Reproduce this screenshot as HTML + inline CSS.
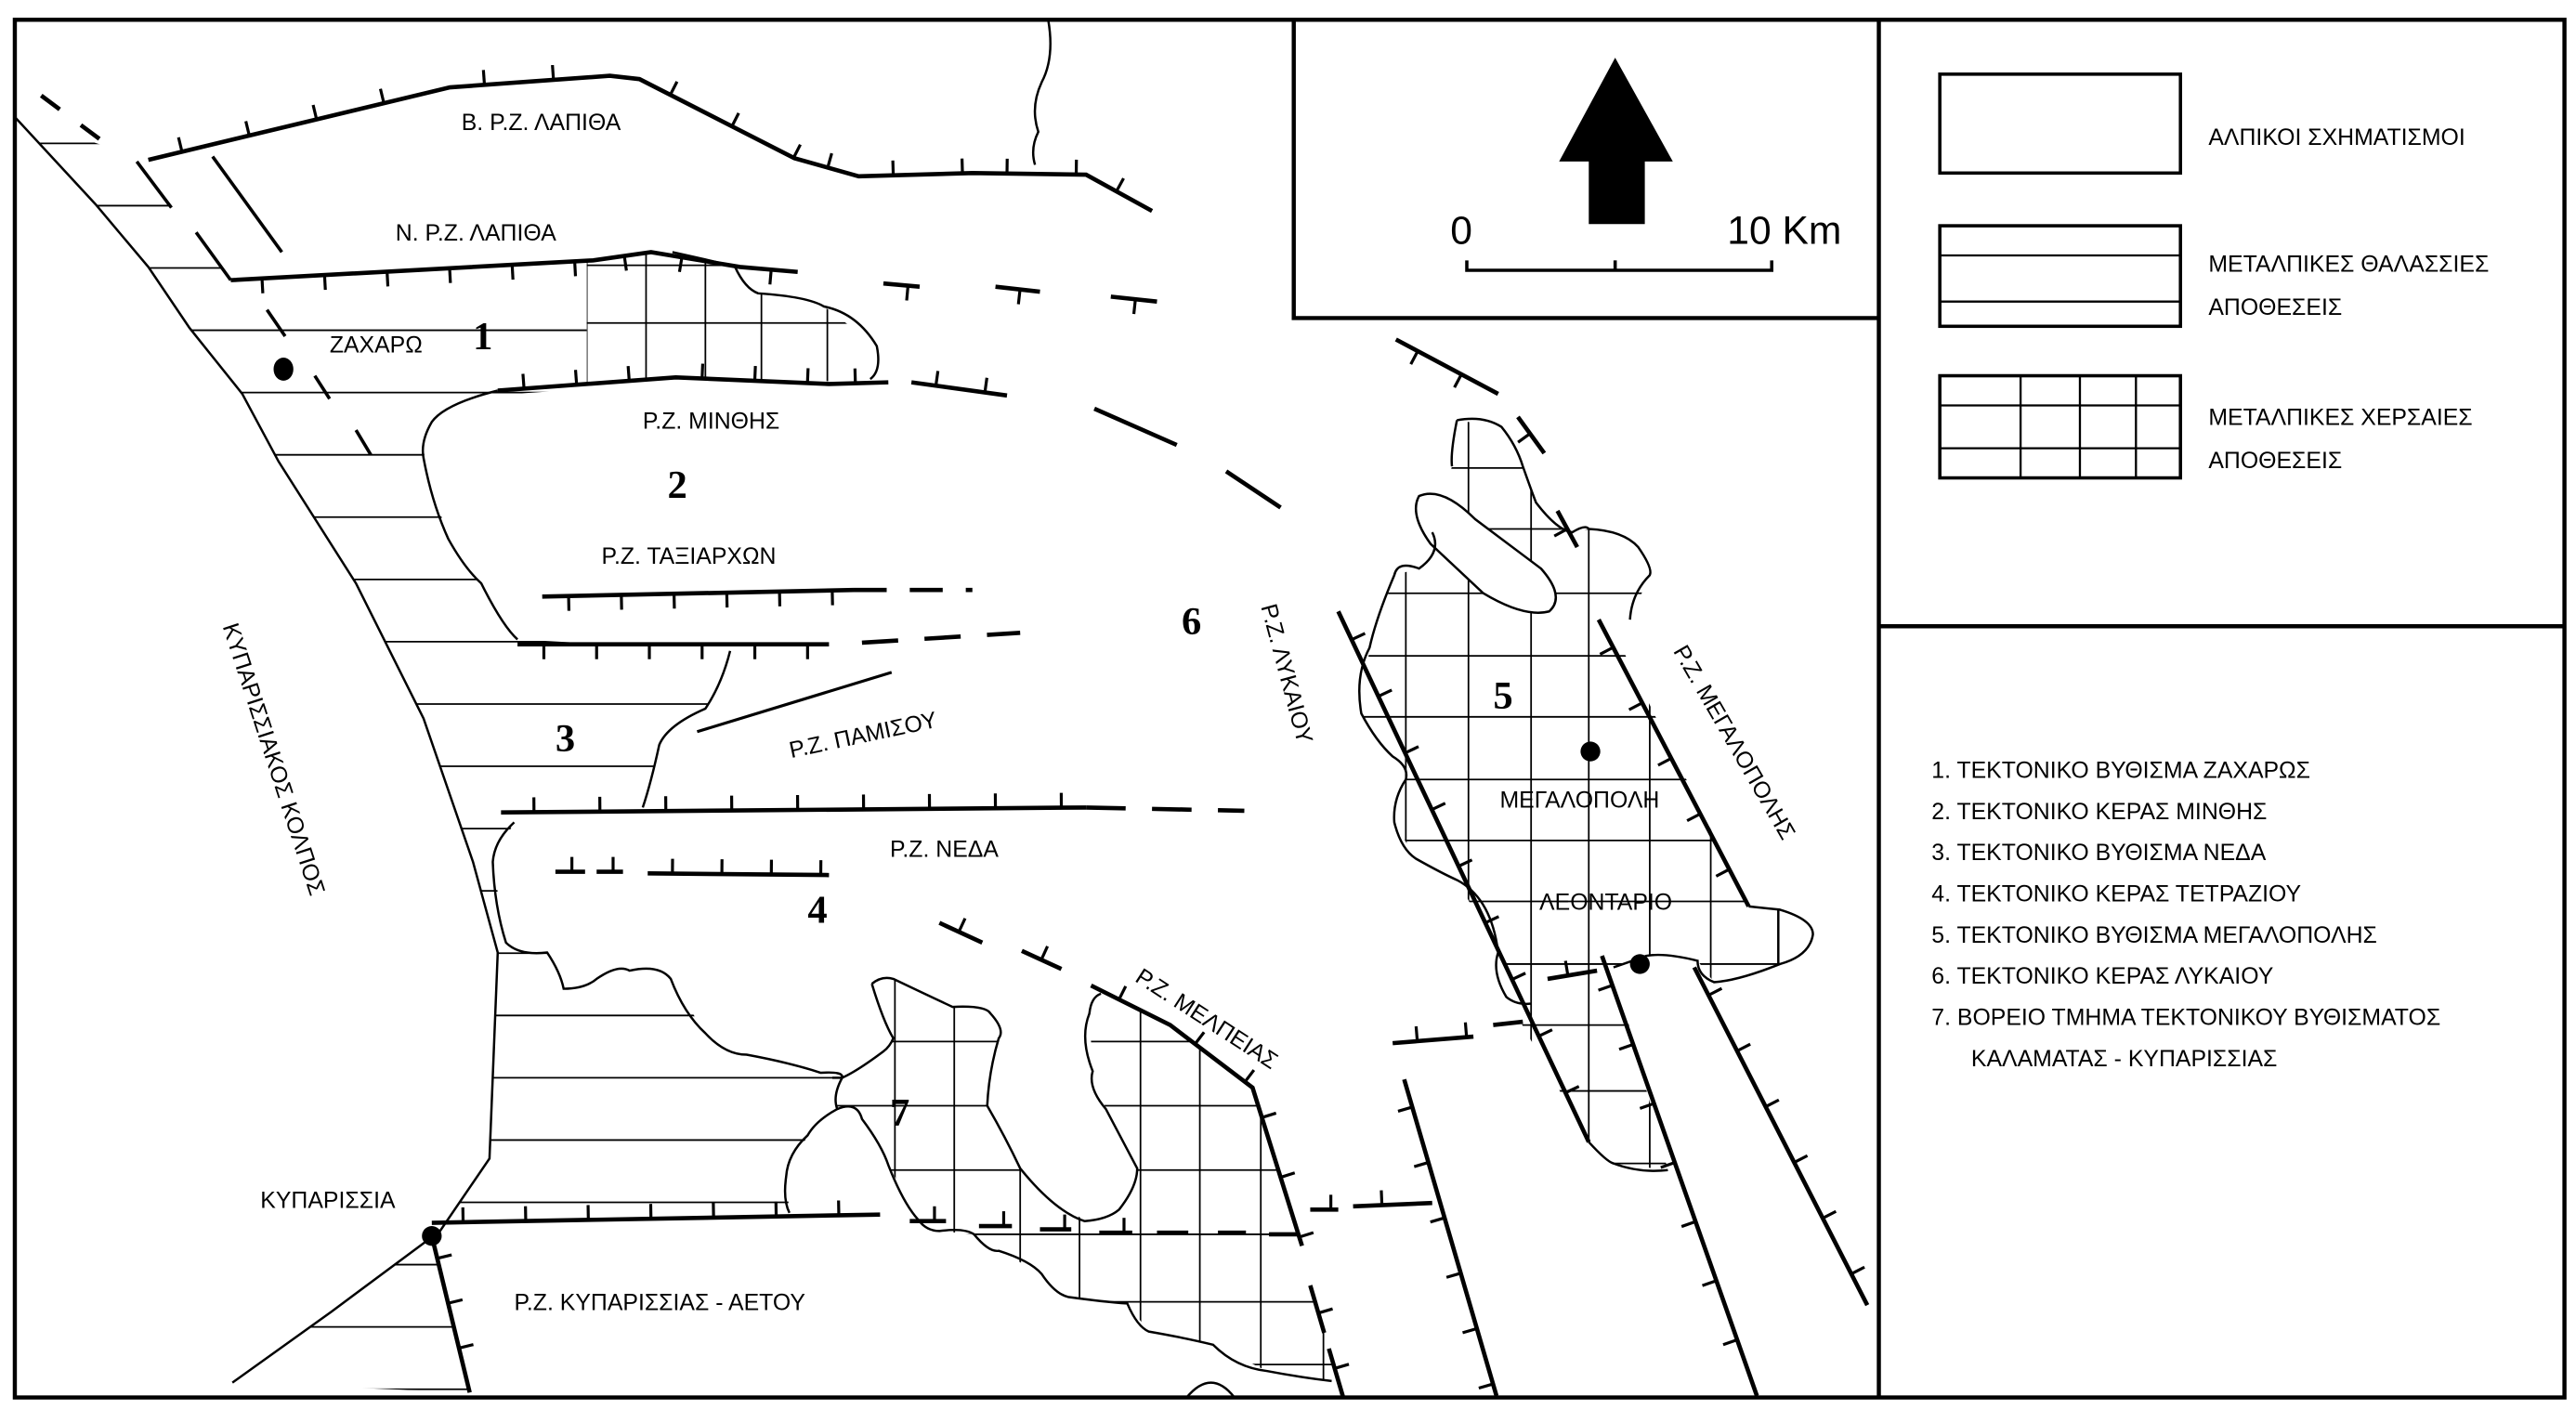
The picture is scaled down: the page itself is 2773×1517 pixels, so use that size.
<!DOCTYPE html>
<html><head><meta charset="utf-8"><style>
html,body{margin:0;padding:0;background:#fff;}
svg{display:block;}
text{font-family:"Liberation Sans Narrow","Liberation Sans","DejaVu Sans Condensed",sans-serif;fill:#000;}
.n{font-family:"Liberation Serif",serif;font-weight:bold;font-size:24px;}
</style></head><body>
<svg id="s" width="2773" height="1517" viewBox="0 0 1563 855" preserveAspectRatio="none" xmlns="http://www.w3.org/2000/svg">
<defs>
<clipPath id="hc"><path d="M9,71 L58,124 L90,162 L115,199 L147,239 L169,280 L216,354 L257,436 L287,523 L302,578 L297,703 L267,747 L201,796 L141,839 L285,845 L262,745 L534,737 L479,736 L477,714 L490,689 L505,673 L511,654 L498,651 L453,640 L428,627 L407,594 L382,589 L362,594 L342,600 L332,578 L307,572 L299,523 L312,499 L390,490 L400,452 L428,430 L443,395 L314,388 L292,354 L272,327 L257,278 L262,256 L297,240 L356,236 L356,165 L140,170 L104,126 L68,90 Z"/></clipPath>
<clipPath id="gc1"><path d="M356,158 L395,153 L446,162 L460,178 L500,186 L532,210 L528,232 L410,229 L356,234 Z"/></clipPath>
<clipPath id="gc2"><path d="M884,255 L911,259 L924,283 L932,305 L954,323 L964,321 L994,332 L1001,349 L989,376 L982,389 L1061,550 L1080,552 L1100,567 L1080,585 L1040,596 L1030,583 L999,580 L979,587 L1012,710 L979,706 L964,693 L914,605 L929,609 L909,578 L884,534 L859,521 L846,499 L853,473 L845,459 L826,433 L831,393 L846,349 L861,345 L869,323 L881,283 Z"/></clipPath>
<clipPath id="gc3"><path d="M529,597 L542,594 L578,611 L601,615 L606,630 L599,671 L619,709 L658,741 L679,734 L690,709 L671,673 L663,650 L661,615 L668,603 L662,598 L710,622 L760,660 L790,756 L815,848 L808,838 L769,832 L736,816 L697,808 L684,791 L648,787 L632,773 L606,759 L591,749 L570,747 L557,740 L539,707 L523,679 L508,673 L505,654 L511,654 L536,638 L542,630 Z"/></clipPath>
</defs>
<rect x="9" y="12" width="1547" height="836" fill="none" stroke="#000" stroke-width="2.5"/>
<line x1="1140" y1="12" x2="1140" y2="848" stroke="#000" stroke-width="2.5"/>
<polyline points="785,12 785,193 1140,193" fill="none" stroke="#000" stroke-width="2.5"/>
<line x1="1140" y1="380" x2="1556" y2="380" stroke="#000" stroke-width="2.5"/>
<polygon points="980,35 1015,98 998,98 998,136 964,136 964,98 946,98" fill="#000"/>
<text x="880" y="148" font-size="24" style="font-family:'Liberation Sans',sans-serif">0</text>
<text x="1048" y="148" font-size="24" style="font-family:'Liberation Sans',sans-serif">10 Km</text>
<polyline points="890,158 890,164 1075,164 1075,158" fill="none" stroke="#000" stroke-width="2"/>
<line x1="980" y1="158" x2="980" y2="164" stroke="#000" stroke-width="2"/>
<g fill="none" stroke="#000" stroke-width="2">
<rect x="1177" y="45" width="146" height="60"/>
<rect x="1177" y="137" width="146" height="61"/>
<line x1="1177" y1="155" x2="1323" y2="155" stroke-width="1.3"/>
<line x1="1177" y1="183" x2="1323" y2="183" stroke-width="1.3"/>
<rect x="1177" y="228" width="146" height="62"/>
<g stroke-width="1.3"><line x1="1177" y1="246" x2="1323" y2="246"/><line x1="1177" y1="272" x2="1323" y2="272"/>
<line x1="1226" y1="228" x2="1226" y2="290"/><line x1="1262" y1="228" x2="1262" y2="290"/><line x1="1296" y1="228" x2="1296" y2="290"/></g>
</g>
<g font-size="14">
<text x="1340" y="88">ΑΛΠΙΚΟΙ ΣΧΗΜΑΤΙΣΜΟΙ</text>
<text x="1340" y="165">ΜΕΤΑΛΠΙΚΕΣ ΘΑΛΑΣΣΙΕΣ</text>
<text x="1340" y="191">ΑΠΟΘΕΣΕΙΣ</text>
<text x="1340" y="258">ΜΕΤΑΛΠΙΚΕΣ ΧΕΡΣΑΙΕΣ</text>
<text x="1340" y="284">ΑΠΟΘΕΣΕΙΣ</text>
<text x="1172" y="472">1. ΤΕΚΤΟΝΙΚΟ ΒΥΘΙΣΜΑ ΖΑΧΑΡΩΣ</text>
<text x="1172" y="497">2. ΤΕΚΤΟΝΙΚΟ ΚΕΡΑΣ ΜΙΝΘΗΣ</text>
<text x="1172" y="522">3. ΤΕΚΤΟΝΙΚΟ ΒΥΘΙΣΜΑ ΝΕΔΑ</text>
<text x="1172" y="547">4. ΤΕΚΤΟΝΙΚΟ ΚΕΡΑΣ ΤΕΤΡΑΖΙΟΥ</text>
<text x="1172" y="572">5. ΤΕΚΤΟΝΙΚΟ ΒΥΘΙΣΜΑ ΜΕΓΑΛΟΠΟΛΗΣ</text>
<text x="1172" y="597">6. ΤΕΚΤΟΝΙΚΟ ΚΕΡΑΣ ΛΥΚΑΙΟΥ</text>
<text x="1172" y="622">7. ΒΟΡΕΙΟ ΤΜΗΜΑ ΤΕΚΤΟΝΙΚΟΥ ΒΥΘΙΣΜΑΤΟΣ</text>
<text x="1196" y="647">ΚΑΛΑΜΑΤΑΣ - ΚΥΠΑΡΙΣΣΙΑΣ</text>
</g>
<g id="hatch" clip-path="url(#hc)" stroke="#000" stroke-width="1"></g>
<g id="grid1" clip-path="url(#gc1)" stroke="#000" stroke-width="1"></g>
<g id="grid2" clip-path="url(#gc2)" stroke="#000" stroke-width="1"></g>
<g id="grid3" clip-path="url(#gc3)" stroke="#000" stroke-width="1"></g>
<path d="M861,301 Q875,295 895,315 L935,345 Q950,362 940,371 Q925,375 900,360 L868,330 Q855,312 861,301 Z" fill="#fff" stroke="#000" stroke-width="1.4"/>
<g fill="none" stroke="#000" stroke-width="1.4">
<path d="M9,71 L58,124 L90,162 L115,199 L147,239 L169,280 L216,354 L257,436 L287,523 L302,578 L297,703 L267,747 L201,796 L141,839"/>
<path d="M302,237 Q270,245 262,256 Q255,268 257,278 Q262,305 272,327 Q282,345 292,354 Q305,380 314,388"/>
<path d="M443,395 Q438,415 428,430 Q405,440 400,452 Q395,475 390,490"/>
<path d="M312,499 Q300,510 299,523 Q300,550 307,572 Q315,580 332,578 Q340,590 342,600 Q355,600 362,594 Q375,585 382,589 Q400,585 407,594 Q415,615 428,627 Q440,640 453,640 Q480,645 498,651 Q512,650 511,654"/>
<path d="M511,654 Q505,665 508,673 Q495,680 490,689 Q478,700 477,714 Q475,728 479,736"/>
<path d="M408,153 Q440,160 446,162 Q452,175 460,178 Q490,180 500,186 Q520,190 532,210 Q535,225 528,230"/>
<path d="M636,12 Q640,35 632,50 Q625,65 630,80 Q625,90 628,100"/>
<path d="M884,255 Q880,275 881,283 M884,255 Q900,252 911,259 Q920,270 924,283 Q930,300 932,305 Q945,322 954,323 Q962,318 964,321 Q985,322 994,332 Q1003,345 1001,349 Q990,360 989,376"/>
<path d="M869,323 Q875,335 861,345 Q848,340 846,349 Q835,375 831,393 Q822,410 826,433 Q835,450 845,459 Q855,465 853,473 Q845,485 846,499 Q850,515 859,521 Q875,530 884,534 Q905,545 909,578 Q905,590 914,605 Q920,610 929,609"/>
<path d="M1061,550 L1080,552 Q1100,558 1100,567 Q1098,580 1080,585 Q1055,595 1040,596 Q1030,592 1030,583 Q1010,578 999,580 Q985,585 979,587"/>
<path d="M1079,552 L1079,585"/>
<path d="M964,693 Q975,705 979,706 Q995,712 1012,710"/>
<path d="M529,597 Q535,592 542,594 Q565,605 578,611 Q598,610 601,615 Q610,625 606,630 Q600,650 599,671 Q610,690 619,709 Q640,735 658,741 Q672,740 679,734 Q690,720 690,709 Q680,690 671,673 Q660,660 663,650 Q655,630 661,615 Q662,605 668,603"/>
<path d="M529,597 Q536,620 542,630 Q540,635 536,638 Q520,650 511,654 L505,654"/>
<path d="M508,673 Q520,668 523,679 Q535,695 539,707 Q548,730 557,740 Q562,747 570,747 Q585,745 591,749 Q600,760 606,759 Q625,765 632,773 Q640,785 648,787 Q670,790 684,791 Q690,805 697,808 Q720,812 736,816 Q750,830 769,832 Q790,836 808,838"/>
<path d="M720,848 Q735,830 749,848"/>
</g>
<g id="faults" fill="none" stroke="#000" stroke-width="2.6"></g>
<g fill="#000"><ellipse cx="172" cy="224" rx="6" ry="7"/><circle cx="965" cy="456" r="6"/><circle cx="995" cy="585" r="6"/><circle cx="262" cy="750" r="6"/></g>
<g font-size="14">
<text x="280" y="79">Β. Ρ.Ζ. ΛΑΠΙΘΑ</text>
<text x="240" y="146">Ν. Ρ.Ζ. ΛΑΠΙΘΑ</text>
<text x="200" y="214">ΖΑΧΑΡΩ</text>
<text x="390" y="260">Ρ.Ζ. ΜΙΝΘΗΣ</text>
<text x="365" y="342">Ρ.Ζ. ΤΑΞΙΑΡΧΩΝ</text>
<text x="480" y="460" transform="rotate(-12 480 460)">Ρ.Ζ. ΠΑΜΙΣΟΥ</text>
<text x="540" y="520">Ρ.Ζ. ΝΕΔΑ</text>
<text x="312" y="795">Ρ.Ζ. ΚΥΠΑΡΙΣΣΙΑΣ - ΑΕΤΟΥ</text>
<text x="158" y="733">ΚΥΠΑΡΙΣΣΙΑ</text>
<text x="910" y="490">ΜΕΓΑΛΟΠΟΛΗ</text>
<text x="934" y="552">ΛΕΟΝΤΑΡΙΟ</text>
<text x="0" y="0" transform="translate(135,380) rotate(72)">ΚΥΠΑΡΙΣΣΙΑΚΟΣ ΚΟΛΠΟΣ</text>
<text x="0" y="0" transform="translate(765,368) rotate(75)">Ρ.Ζ. ΛΥΚΑΙΟΥ</text>
<text x="0" y="0" transform="translate(1015,395) rotate(60)">Ρ.Ζ. ΜΕΓΑΛΟΠΟΛΗΣ</text>
<text x="0" y="0" transform="translate(688,595) rotate(33)">Ρ.Ζ. ΜΕΛΠΕΙΑΣ</text>
</g>
<text class="n" x="287" y="212">1</text>
<text class="n" x="405" y="302">2</text>
<text class="n" x="337" y="456">3</text>
<text class="n" x="490" y="560">4</text>
<text class="n" x="906" y="430">5</text>
<text class="n" x="717" y="385">6</text>
<text class="n" x="540" y="683">7</text>
</svg>
<script>
var NS="http://www.w3.org/2000/svg";
function el(p,t,a){var e=document.createElementNS(NS,t);for(var k in a)e.setAttribute(k,a[k]);p.appendChild(e);return e;}
var H=document.getElementById('hatch');
for(var y=87;y<845;y+=37.8)el(H,'line',{x1:0,y1:y,x2:900,y2:y});
function grid(id,xs,ys,x0,x1,y0,y1){var g=document.getElementById(id);
xs.forEach(function(x){el(g,'line',{x1:x,y1:y0,x2:x,y2:y1});});
ys.forEach(function(y){el(g,'line',{x1:x0,y1:y,x2:x1,y2:y});});}
grid('grid1',[356,392,428,462,502],[161,196],300,560,140,240);
grid('grid2',[853,891,929,964,1001,1038,1079],[284,321,360,398,435,473,510,547,585,622,662,706],800,1120,240,720);
grid('grid3',[543,579,619,655,692,728,765,803],[632,671,710,749,790,828],490,830,580,850);
var F=document.getElementById('faults');
function fault(pts,dash,side,sp,w){
 var d='M'+pts.map(function(p){return p.join(',')}).join(' L');
 var a={d:d,'stroke-width':w||2.6};if(dash)a['stroke-dasharray']=dash;el(F,'path',a);
 if(!side)return;
 for(var i=0;i<pts.length-1;i++){var a0=pts[i],b=pts[i+1],dx=b[0]-a0[0],dy=b[1]-a0[1],L=Math.hypot(dx,dy);
  var nx=-dy/L*side,ny=dx/L*side;
  for(var t=sp/2;t<L;t+=sp){var x=a0[0]+dx*t/L,y=a0[1]+dy*t/L;el(F,'line',{x1:x,y1:y,x2:x+nx*9,y2:y+ny*9,'stroke-width':1.8});}}
}
fault([[90,97],[273,53],[370,46],[388,48],[482,96],[521,107],[590,105],[659,106],[699,128]],null,-1,42);
fault([[140,170],[360,158],[395,153],[449,162],[484,165]],null,1,38);
fault([[536,172],[558,174]],null,1,30);fault([[604,174],[631,177]],null,1,30);fault([[674,180],[702,183]],null,1,30);
fault([[302,237],[410,229],[503,233],[539,232]],null,-1,32);
fault([[553,232],[611,240]],null,-1,30);
fault([[664,248],[714,270]]);fault([[744,286],[777,308]]);
fault([[329,362],[518,358]],null,1,32);
fault([[518,358],[590,358]],'20 14');
fault([[314,391],[503,391]],null,1,32);
fault([[523,390],[619,384]],'22 16');
fault([[423,444],[541,408]],null,0,0,1.8);
fault([[304,493],[659,490]],null,-1,40);
fault([[659,490],[755,492]],'24 16');
fault([[337,529],[355,529]],null,-1,20);fault([[362,529],[378,529]],null,-1,20);
fault([[393,530],[503,531]],null,-1,30);
fault([[570,560],[596,572]],null,-1,26);fault([[620,577],[644,588]],null,-1,26);
fault([[662,598],[710,622],[760,660],[790,756]],null,-1,38);
fault([[795,780],[815,848]],'30 10',-1,35);
fault([[262,742],[534,737]],null,-1,38);
fault([[552,741],[574,741]],null,-1,30);fault([[594,744],[614,744]],null,-1,30);fault([[631,746],[650,746]],null,-1,30);
fault([[667,748],[687,748]],null,-1,30);fault([[702,748],[721,748]]);fault([[739,748],[756,748]]);fault([[770,749],[788,749]]);
fault([[795,734],[812,734]],null,-1,25);fault([[821,732],[869,730]],null,-1,35);
fault([[262,750],[285,845]],null,-1,28);
fault([[847,206],[909,239]],null,1,30);
fault([[921,253],[937,275]],null,1,25);fault([[945,310],[957,332]],null,1,25);
fault([[812,371],[964,693]],null,-1,38);
fault([[970,376],[1061,550]],null,1,38);
fault([[972,580],[1066,847]],null,1,38);
fault([[1028,587],[1133,792]],null,-1,38);
fault([[852,655],[908,847]],null,1,35);
fault([[845,633],[894,629]],null,-1,30);fault([[906,622],[924,620]]);
fault([[939,594],[969,589]],null,-1,25);
fault([[25,58],[68,90]],'14 16');
fault([[83,98],[104,126]],null,0,0,2);
fault([[119,141],[140,170]],null,0,0,2);
fault([[129,95],[171,153]],null,0,0,2);
fault([[162,188],[173,204]],null,0,0,2);fault([[191,228],[200,242]],null,0,0,2);fault([[216,261],[225,276]],null,0,0,2);
</script>
</body></html>
